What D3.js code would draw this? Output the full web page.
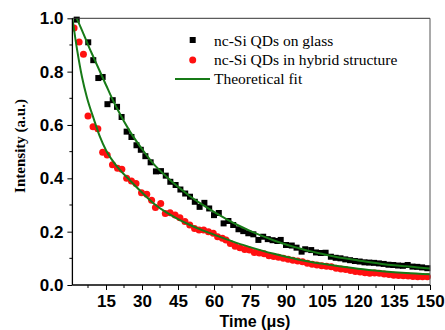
<!DOCTYPE html>
<html><head><meta charset="utf-8">
<script src="https://cdn.jsdelivr.net/npm/d3@7"></script>
<style>body{margin:0;background:#fff}svg{display:block}</style>
</head><body>
<script>
// ---- data ----
const glassT = [2.8,7.6,9.7,11.8,13.6,15.6,17.8,19.6,21.5,23.6,25.6,27.7,29.5,31.4,33.6,35.8,37.9,39.9,41.8,44.0,46.0,48.0,50.0,52.0,54.0,56.0,58.0,60.0,62.0,64.0,66.0,68.0,70.2,72.2,74.3,76.4,78.5,80.5,82.4,84.4,86.4,87.8,90.0,92.4,94.4,96.5,98.0,100.5,102.5,104.5,106.5,108.7,110.7,112.7,114.7,116.7,118.7,120.7,122.7,124.7,126.7,128.7,130.7,132.7,134.7,136.7,138.7,140.7,142.7,144.7,146.7,148.9];
const glassI = [0.995,0.91,0.843,0.776,0.78,0.678,0.693,0.668,0.63,0.575,0.555,0.524,0.507,0.483,0.46,0.426,0.427,0.41,0.387,0.375,0.358,0.343,0.331,0.312,0.293,0.308,0.287,0.262,0.27,0.231,0.24,0.225,0.209,0.202,0.194,0.19,0.169,0.181,0.172,0.168,0.165,0.169,0.15,0.148,0.14,0.125,0.134,0.131,0.122,0.12,0.121,0.106,0.102,0.1,0.096,0.093,0.09,0.088,0.085,0.084,0.083,0.081,0.079,0.076,0.075,0.073,0.072,0.075,0.069,0.068,0.066,0.063];
const hybridT = [1.7,3.8,5.6,7.5,9.6,11.6,13.6,15.5,17.7,19.8,21.6,23.6,25.6,27.5,29.8,32.0,34.0,35.6,37.8,39.7,41.7,43.8,45.8,47.9,49.9,51.9,53.8,55.7,57.7,59.7,61.5,63.5,65.0,66.8,68.8,70.8,72.8,74.8,76.8,78.9,80.9,82.9,84.9,86.9,88.9,90.9,92.9,94.9,96.9,98.9,100.9,102.9,104.9,106.9,108.9,110.9,112.9,114.9,116.9,118.9,120.9,122.9,124.9,126.9,128.9,130.9,132.9,134.9,136.9,138.9,140.9,142.9,144.9,146.9,148.9];
const hybridI = [0.964,0.911,0.865,0.634,0.593,0.586,0.498,0.487,0.451,0.438,0.434,0.40,0.39,0.381,0.346,0.34,0.318,0.291,0.306,0.268,0.271,0.262,0.252,0.238,0.225,0.212,0.206,0.206,0.20,0.194,0.181,0.175,0.169,0.156,0.145,0.14,0.133,0.131,0.122,0.12,0.117,0.11,0.107,0.104,0.1,0.097,0.093,0.09,0.087,0.082,0.078,0.075,0.072,0.07,0.068,0.063,0.06,0.058,0.054,0.051,0.049,0.046,0.044,0.045,0.044,0.041,0.039,0.037,0.036,0.035,0.034,0.032,0.031,0.031,0.031];
const fitGlassT = [2.8,5,8,10,12,15,17.5,20,25,30,35,40,45,50,55,60,65,70,75,80,85,90,95,100,105,110,115,120,125,130,135,140,145,150];
const fitGlassI = [1.0,0.955,0.89,0.85,0.81,0.75,0.70,0.655,0.575,0.51,0.452,0.408,0.368,0.333,0.302,0.274,0.248,0.224,0.203,0.184,0.167,0.152,0.139,0.127,0.117,0.107,0.099,0.092,0.085,0.079,0.074,0.07,0.066,0.062];
const fitHybridT = [1,3,5,7,10,12.5,15,20,25,30,35,40,45,50,55,60,65,70,75,80,85,90,95,100,110,120,130,140,150];
const fitHybridI = [1.0,0.88,0.78,0.705,0.62,0.555,0.505,0.44,0.392,0.347,0.305,0.273,0.247,0.225,0.206,0.189,0.172,0.156,0.142,0.129,0.117,0.106,0.096,0.087,0.073,0.061,0.052,0.045,0.04];
const xTicks = [15,30,45,60,75,90,105,120,135,150];
const yTicks = [0.0,0.2,0.4,0.6,0.8,1.0];
const legendLabels = ["nc-Si QDs on glass","nc-Si QDs in hybrid structure","Theoretical fit"];

// ---- chart ----
const W=445,H=330, L=72.4, R=430, T=18.3, B=285;
const svg=d3.select("body").append("svg").attr("width",W).attr("height",H);
const x=d3.scaleLinear().domain([1,150]).range([L,R]);
const y=d3.scaleLinear().domain([0,1]).range([B,T]);
const green="#177a17";

const plot=svg.append("g");
svg.append("defs").append("clipPath").attr("id","clip").append("rect")
  .attr("x",L).attr("y",T-4).attr("width",R-L+4).attr("height",B-T+4);
plot.attr("clip-path","url(#clip)");

// points
plot.selectAll("rect.g").data(glassT.map((t,i)=>[t,glassI[i]])).join("rect")
  .attr("x",d=>x(d[0])-3).attr("y",d=>y(d[1])-3).attr("width",6).attr("height",6).attr("fill","#000");
plot.selectAll("circle.h").data(hybridT.map((t,i)=>[t,hybridI[i]])).join("circle")
  .attr("cx",d=>x(d[0])).attr("cy",d=>y(d[1])).attr("r",3.5).attr("fill","#ff1010");

const line=d3.line().x(d=>x(d[0])).y(d=>y(d[1])).curve(d3.curveMonotoneX);
plot.append("path").datum(fitGlassT.map((t,i)=>[t,fitGlassI[i]])).attr("d",line)
  .attr("fill","none").attr("stroke",green).attr("stroke-width",2);
plot.append("path").datum(fitHybridT.map((t,i)=>[t,fitHybridI[i]])).attr("d",line)
  .attr("fill","none").attr("stroke",green).attr("stroke-width",2);

// frame
svg.append("line").attr("x1",L).attr("x2",R).attr("y1",T).attr("y2",T).attr("stroke","#333").attr("stroke-width",1);
svg.append("line").attr("x1",R).attr("x2",R).attr("y1",T).attr("y2",B).attr("stroke","#555").attr("stroke-width",1);

// x axis
const xMinor=xTicks.map(v=>v-7.5);
const xa=svg.append("g").attr("transform",`translate(0,${B})`);
xa.call(d3.axisBottom(x).tickValues(xTicks).tickSize(5).tickPadding(5).tickFormat(d3.format("d")));
xa.append("g").selectAll("line").data(xMinor).join("line")
  .attr("x1",d=>x(d)).attr("x2",d=>x(d)).attr("y1",0).attr("y2",3).attr("stroke","#000");
xa.select(".domain").attr("d",`M${L},0H${R}`).attr("stroke-width",1.3);
xa.selectAll("text").attr("font-family","'Liberation Sans',Arial,sans-serif").attr("font-weight","bold").attr("font-size",17).attr("fill","#000");

// y axis
const ya=svg.append("g").attr("transform",`translate(${L},0)`);
ya.call(d3.axisLeft(y).tickValues(yTicks).tickSize(5).tickPadding(4).tickFormat(d3.format(".1f")));
ya.append("g").selectAll("line").data(yTicks.slice(0,5).map(v=>v+0.1)).join("line")
  .attr("y1",d=>y(d)).attr("y2",d=>y(d)).attr("x1",0).attr("x2",-3).attr("stroke","#000");
ya.select(".domain").attr("d",`M0,${B}V${T}`).attr("stroke-width",1.3);
ya.selectAll("text").attr("font-family","'Liberation Sans',Arial,sans-serif").attr("font-weight","bold").attr("font-size",17).attr("fill","#000");

// titles
svg.append("text").attr("x",255).attr("y",326.5).attr("text-anchor","middle")
  .attr("font-family","'Liberation Sans',Arial,sans-serif").attr("font-weight","bold").attr("font-size",16)
  .text("Time (μs)");
svg.append("text").attr("transform","translate(25,146) rotate(-90)").attr("text-anchor","middle")
  .attr("font-family","'Liberation Serif','Times New Roman',serif").attr("font-weight","bold").attr("font-size",15)
  .text("Intensity (a.u.)");

// legend
const lg=svg.append("g");
const lgY=[40,60,79];
lg.append("rect").attr("x",189.7).attr("y",lgY[0]-3).attr("width",6).attr("height",6).attr("fill","#000");
lg.append("circle").attr("cx",192.7).attr("cy",lgY[1]).attr("r",3.5).attr("fill","#ff1010");
lg.append("line").attr("x1",175).attr("x2",210).attr("y1",lgY[2]).attr("y2",lgY[2]).attr("stroke",green).attr("stroke-width",2);
lg.selectAll("text").data(legendLabels).join("text")
  .attr("x",214).attr("y",(d,i)=>[46,64.5,83.5][i])
  .attr("font-family","'Liberation Serif','Times New Roman',serif").attr("font-size",15.5).attr("fill","#000")
  .text(d=>d);
</script>
</body></html>
